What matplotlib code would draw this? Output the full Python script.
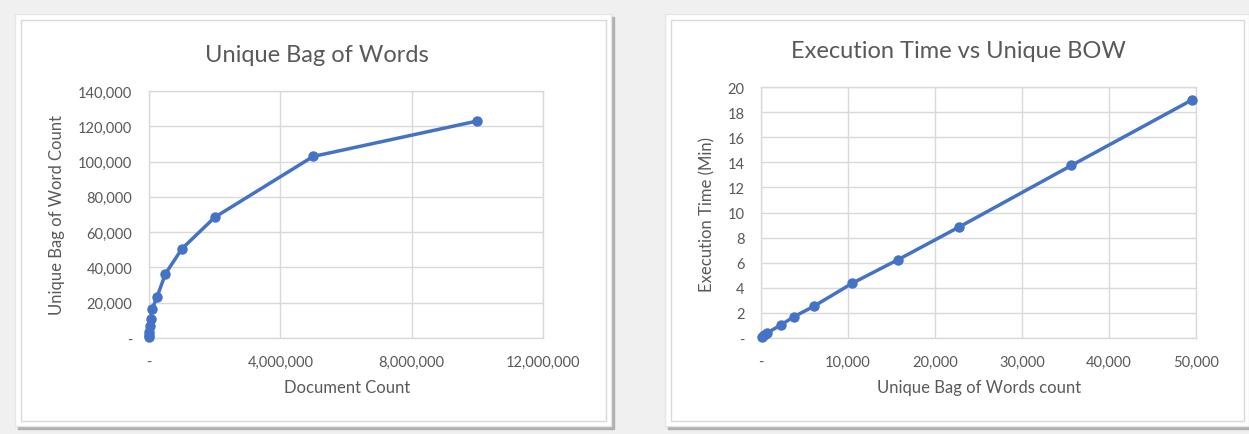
import numpy as np
import matplotlib
matplotlib.use("Agg")
import matplotlib.pyplot as plt
from matplotlib.patches import Rectangle
from matplotlib.ticker import FuncFormatter

# left chart: document count vs unique bag-of-words count
doc_count = [1000, 5000, 10000, 20000, 50000, 100000, 250000, 500000,
             1000000, 2000000, 5000000, 10000000]
unique_bow = [600, 1800, 3400, 6600, 10900, 16600, 23500, 36400,
              50500, 68400, 102900, 123000]

# right chart: unique BOW count vs execution time (min)
bow_count = [100, 300, 700, 2330, 3800, 6080, 10480, 15690, 22740, 35680, 49590]
exec_min = [0.1, 0.2, 0.4, 1.06, 1.70, 2.53, 4.36, 6.22, 8.83, 13.75, 18.99]

BLUE, TXT, GRID, BG = "#4472c4", "#595959", "#d9d9d9", "#f0f0f0"
W, H = 1249, 435
plt.rcParams["font.family"] = ["Lato", "DejaVu Sans"]


def fx(px):
    return px / W


def fy(py):
    return 1 - py / H


def fmt_comma(v, pos):
    return "-" if abs(v) < 1e-9 else f"{v:,.0f}"


fig = plt.figure(figsize=(W / 100, H / 100), dpi=100, facecolor=BG)

# chart boxes with drop shadow
for x0, x1 in [(15, 611), (665, 1249)]:
    fig.patches.append(Rectangle((fx(x0 + 3), fy(430)), fx(x1 - x0), (427 - 15) / H,
                                 transform=fig.transFigure, color="#b0b0b0", zorder=-3))
    fig.patches.append(Rectangle((fx(x0), fy(427)), fx(x1 - x0), (427 - 15) / H,
                                 transform=fig.transFigure, facecolor="white",
                                 edgecolor="#e6e6e6", lw=1, zorder=-2))
    fig.patches.append(Rectangle((fx(x0 + 6), fy(422)), fx(x1 - x0 - 11), (422 - 21) / H,
                                 transform=fig.transFigure, facecolor="none",
                                 edgecolor="#d9d9d9", lw=1, zorder=-1))


def style(ax):
    ax.set_facecolor("white")
    for sp in ax.spines.values():
        sp.set_color(GRID)
        sp.set_linewidth(1)
    ax.grid(color=GRID, lw=1)
    ax.set_axisbelow(True)
    ax.tick_params(length=0, colors=TXT, labelsize=10.5, pad=12)
    ax.xaxis.set_major_formatter(FuncFormatter(fmt_comma))
    ax.yaxis.set_major_formatter(FuncFormatter(fmt_comma))


ax1 = fig.add_axes([fx(149), fy(339), fx(543 - 149), (339 - 92) / H])
ax1.plot(doc_count, unique_bow, color=BLUE, lw=2.5, marker="o", ms=6.5,
         zorder=3, clip_on=False)
ax1.set_xlim(0, 12000000)
ax1.set_ylim(0, 140000)
ax1.set_xticks(np.arange(0, 12000001, 4000000))
ax1.set_yticks(np.arange(0, 140001, 20000))
style(ax1)

ax2 = fig.add_axes([fx(761), fy(339), fx(1196 - 761), (339 - 88) / H])
ax2.plot(bow_count, exec_min, color=BLUE, lw=2.5, marker="o", ms=6.5,
         zorder=3, clip_on=False)
ax2.set_xlim(0, 50000)
ax2.set_ylim(0, 20)
ax2.set_xticks(np.arange(0, 50001, 10000))
ax2.set_yticks(np.arange(0, 21, 2))
style(ax2)

fig.text(fx(317), fy(55), "Unique Bag of Words", ha="center", va="center",
         fontsize=17, color=TXT)
fig.text(fx(958), fy(52), "Execution Time vs Unique BOW", ha="center", va="center",
         fontsize=17, color=TXT)
fig.text(fx(347), fy(388), "Document Count", ha="center", va="center",
         fontsize=12, color=TXT)
fig.text(fx(979), fy(388), "Unique Bag of Words count", ha="center", va="center",
         fontsize=12, color=TXT)
fig.text(fx(57), fy(215), "Unique Bag of Word Count", ha="center", va="center",
         rotation=90, fontsize=12, color=TXT)
fig.text(fx(707), fy(214), "Execution Time (Min)", ha="center", va="center",
         rotation=90, fontsize=12, color=TXT)

fig.savefig("out.png", dpi=100, facecolor=BG)
